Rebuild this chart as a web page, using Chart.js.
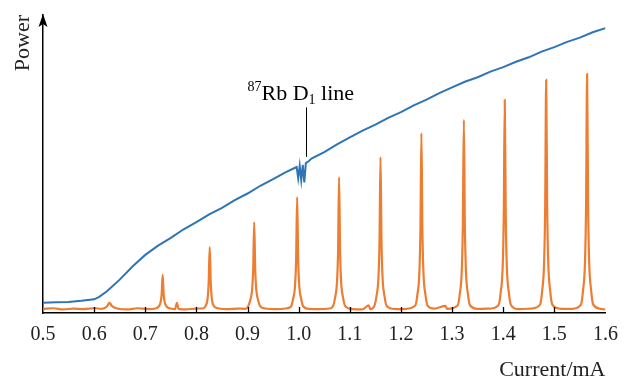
<!DOCTYPE html>
<html>
<head>
<meta charset="utf-8">
<script src="https://cdn.jsdelivr.net/npm/chart.js@4"></script>
<style>
  html, body { margin: 0; padding: 0; background: #fff; }
  #wrap { width: 628px; height: 377px; }
</style>
</head>
<body>
<div id="wrap"><canvas id="myChart"></canvas></div>
<script>
// x tick labels (current, mA)
const tickLabels = ["0.5", "0.6", "0.7", "0.8", "0.9", "1.0", "1.1", "1.2", "1.3", "1.4", "1.5", "1.6"];

// blue trace: laser output power (arbitrary units, 0..100)
const powerCurrent = [0.500, 0.525, 0.550, 0.575, 0.600, 0.610, 0.625, 0.650, 0.675, 0.700, 0.725, 0.750, 0.775, 0.800,
  0.825, 0.850, 0.875, 0.900, 0.925, 0.950, 0.975, 0.990, 0.996, 0.999, 1.002, 1.005, 1.008, 1.011, 1.014, 1.020,
  1.025, 1.050, 1.075, 1.100, 1.125, 1.150, 1.175, 1.200, 1.225, 1.250, 1.275, 1.300, 1.325, 1.350, 1.375, 1.400,
  1.425, 1.450, 1.475, 1.500, 1.525, 1.550, 1.575, 1.600];
const powerValue = [3.4, 3.6, 3.7, 4.1, 4.6, 5.4, 7.3, 11.2, 15.6, 19.5, 22.6, 25.2, 28.1, 30.5,
  33.1, 35.3, 37.9, 40.1, 42.7, 44.9, 47.3, 48.5, 49.0, 45.2, 49.4, 44.6, 49.7, 43.8, 50.3, 51.0,
  51.8, 54.0, 56.6, 58.9, 61.2, 63.2, 65.5, 67.4, 69.7, 71.6, 73.8, 75.7, 77.6, 79.1, 81.0, 82.5,
  84.3, 85.8, 87.7, 89.2, 91.0, 92.4, 94.2, 95.6];

// orange trace: transmission peaks
const peakCurrent = [0.500, 0.520, 0.540, 0.560, 0.580, 0.600, 0.615, 0.625, 0.630, 0.635, 0.645, 0.665, 0.685, 0.705,
  0.720, 0.726, 0.730, 0.732, 0.734, 0.736, 0.738, 0.742, 0.750, 0.758, 0.762, 0.765, 0.780, 0.800,
  0.814, 0.818, 0.822, 0.824, 0.826, 0.828, 0.830, 0.834, 0.842, 0.860, 0.880,
  0.896, 0.901, 0.905, 0.909, 0.911, 0.913, 0.915, 0.917, 0.921, 0.925, 0.935, 0.955, 0.975,
  0.985, 0.989, 0.993, 0.995, 0.997, 0.999, 1.001, 1.005, 1.009, 1.020, 1.040, 1.060,
  1.067, 1.071, 1.075, 1.077, 1.079, 1.081, 1.083, 1.087, 1.091, 1.105, 1.125, 1.137, 1.140,
  1.148, 1.152, 1.156, 1.158, 1.160, 1.162, 1.164, 1.168, 1.172, 1.185, 1.205,
  1.228, 1.232, 1.236, 1.238, 1.240, 1.242, 1.244, 1.248, 1.252, 1.265, 1.287, 1.290,
  1.311, 1.315, 1.319, 1.321, 1.323, 1.325, 1.327, 1.331, 1.335, 1.350, 1.375,
  1.391, 1.395, 1.399, 1.401, 1.403, 1.405, 1.407, 1.411, 1.415, 1.430, 1.455,
  1.472, 1.476, 1.480, 1.482, 1.484, 1.486, 1.488, 1.492, 1.496, 1.510, 1.535,
  1.552, 1.556, 1.560, 1.562, 1.564, 1.566, 1.568, 1.572, 1.576, 1.590, 1.600];
const peakValue = [1.4, 1.6, 1.2, 1.5, 1.3, 1.6, 1.4, 2.2, 3.4, 2.3, 1.5, 1.2, 1.6, 1.3,
  1.5, 2.1, 3.6, 6.2, 12.8, 6.2, 3.6, 2.1, 1.5, 1.3, 3.4, 1.4, 1.2, 1.5,
  1.6, 2.4, 5.0, 10.3, 22.1, 10.3, 5.0, 2.4, 1.6, 1.3, 1.5,
  1.4, 2.2, 4.1, 8.0, 14.5, 30.5, 14.5, 8.0, 4.1, 2.2, 1.5, 1.3, 1.5,
  2.2, 4.6, 9.5, 18.0, 38.9, 18.0, 9.5, 4.6, 2.2, 1.4, 1.3, 1.5,
  2.3, 5.0, 10.6, 20.5, 45.6, 20.5, 10.6, 5.0, 2.3, 1.3, 1.2, 2.6, 1.3,
  2.4, 5.5, 12.0, 23.5, 52.3, 23.5, 12.0, 5.5, 2.4, 1.4, 1.3,
  2.5, 6.0, 13.5, 27.0, 60.4, 27.0, 13.5, 6.0, 2.5, 1.5, 2.4, 1.4,
  2.6, 6.3, 14.5, 29.0, 64.8, 29.0, 14.5, 6.3, 2.6, 1.4, 1.5,
  2.7, 6.8, 15.8, 32.0, 71.5, 32.0, 15.8, 6.8, 2.7, 1.3, 1.5,
  2.8, 7.2, 17.2, 35.0, 78.2, 35.0, 17.2, 7.2, 2.8, 1.5, 1.4,
  2.8, 7.4, 17.6, 36.0, 80.2, 36.0, 17.6, 7.4, 2.8, 1.4, 1.2];

// annotation for the absorption dip
const dipCurrent = 1.014;
const dipLineFrom = 52.4;
const dipLineTo = 69.0;

const serif = "'Liberation Serif', 'DejaVu Serif', serif";

function toPoints(xs, ys) {
    return xs.map((x, i) => ({ x: x, y: ys[i] }));
}

const decorations = {
    id: "decorations",
    afterDraw(chart) {
        const ctx = chart.ctx;
        const xs = chart.scales.x;
        const ys = chart.scales.y;
        const area = chart.chartArea;
        ctx.save();
        ctx.strokeStyle = "#000";
        ctx.fillStyle = "#000";

        // inner tick marks on the current axis
        ctx.lineWidth = 1.3;
        tickLabels.forEach((t) => {
            const v = parseFloat(t);
            if (v <= 0.5 || v >= 1.6) return;
            const px = Math.round(xs.getPixelForValue(v)) + 0.5;
            ctx.beginPath();
            ctx.moveTo(px, area.bottom);
            ctx.lineTo(px, area.bottom - 6);
            ctx.stroke();
        });

        // arrow head on the power axis
        const ax = area.left;
        ctx.beginPath();
        ctx.moveTo(ax, area.top - 1);
        ctx.lineTo(ax - 4.5, area.top + 12);
        ctx.lineTo(ax, area.top + 9);
        ctx.lineTo(ax + 4.5, area.top + 12);
        ctx.closePath();
        ctx.fill();

        // leader line + label
        const lx = Math.round(xs.getPixelForValue(dipCurrent)) + 0.5;
        ctx.lineWidth = 1;
        ctx.beginPath();
        ctx.moveTo(lx, ys.getPixelForValue(dipLineFrom));
        ctx.lineTo(lx, ys.getPixelForValue(dipLineTo));
        ctx.stroke();

        const base = ys.getPixelForValue(dipLineTo) - 7;
        let cx = lx - 59;
        ctx.textBaseline = "alphabetic";
        ctx.textAlign = "left";
        ctx.font = "14px " + serif;
        ctx.fillText("87", cx, base - 9);
        cx += ctx.measureText("87").width;
        ctx.font = "22px " + serif;
        ctx.fillText("Rb D", cx, base);
        cx += ctx.measureText("Rb D").width;
        ctx.font = "14px " + serif;
        ctx.fillText("1", cx, base + 4);
        cx += ctx.measureText("1").width;
        ctx.font = "22px " + serif;
        ctx.fillText(" line", cx, base);
        ctx.restore();
    },
};

new Chart(document.getElementById("myChart"), {
    type: "line",
    data: {
        datasets: [
            {
                label: "Power",
                data: toPoints(powerCurrent, powerValue),
                borderColor: "#2e75b6",
                borderWidth: 2,
                pointRadius: 0,
                tension: 0,
            },
            {
                label: "Transmission",
                data: toPoints(peakCurrent, peakValue),
                borderColor: "#ed7d31",
                borderWidth: 2.2,
                pointRadius: 0,
                cubicInterpolationMode: "monotone",
            },
        ],
    },
    options: {
        responsive: true,
        maintainAspectRatio: false,
        animation: false,
        layout: { padding: { top: 15, right: 21, left: 0, bottom: 0 } },
        plugins: {
            legend: { display: false },
            tooltip: { enabled: false },
        },
        scales: {
            x: {
                type: "linear",
                min: 0.5,
                max: 1.6,
                afterFit: (scale) => { scale.height = 64; },
                afterBuildTicks: (scale) => {
                    scale.ticks = tickLabels.map((t) => ({ value: parseFloat(t) }));
                },
                ticks: {
                    color: "#222",
                    padding: 10,
                    maxRotation: 0,
                    font: { family: serif, size: 20 },
                    callback: (v) => v.toFixed(1),
                },
                grid: { display: false, drawTicks: false },
                border: { display: true, color: "#000", width: 1.5 },
                title: {
                    display: true,
                    text: "Current/mA",
                    align: "end",
                    color: "#222",
                    font: { family: serif, size: 22, lineHeight: 1 },
                    padding: { top: 0, bottom: -4 },
                },
            },
            y: {
                min: 0,
                max: 100,
                afterFit: (scale) => { scale.width = 43; },
                ticks: { display: false },
                grid: { display: false, drawTicks: false },
                border: { display: true, color: "#000", width: 1.5 },
                title: {
                    display: true,
                    text: "Power",
                    align: "end",
                    color: "#222",
                    font: { family: serif, size: 22, lineHeight: 1 },
                    padding: { top: 12, bottom: 0 },
                },
            },
        },
    },
    plugins: [decorations],
});
</script>
</body>
</html>
